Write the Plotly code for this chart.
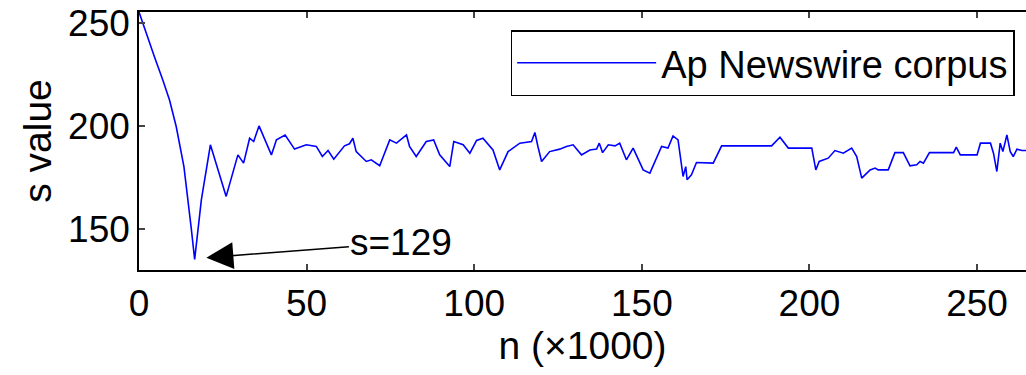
import plotly.graph_objects as go

n_thousands = [0, 2.1, 4.6, 7.1, 9.1, 11.1, 13.4, 15.6, 16.6, 18.6, 21.3, 26.0, 29.5, 31.2, 33.0, 34.2,
               35.8, 39.5, 41.0, 43.6,
               46.4, 49.9, 52.9, 54.7, 56.4, 58.1, 61.3, 62.8, 63.8, 64.8, 67.8, 69.3, 71.8, 74.8, 76.8,
               79.8, 80.7, 82.7, 85.7, 87.9, 89.7, 92.7, 93.9, 96.7, 98.7, 100.7, 102.6, 105.6, 107.6,
               110.1, 113.6, 117.1, 118.1, 119.0, 120.1, 122.5, 125.5, 127.5, 129.5, 132.0, 134.5, 136.5,
               137.3, 138.3, 140.0, 142.0, 143.4, 145.4, 147.4, 150.4, 152.4, 155.9, 157.8, 159.3, 160.8,
               162.3, 163.1, 163.5, 164.8, 166.3, 168.3, 171.3, 173.8, 179.3, 188.7, 191.2, 193.7, 200.7,
               201.9, 202.9, 205.6, 207.6, 210.1, 212.6, 214.1, 215.6, 218.1, 219.6, 220.5, 223.5, 225.5,
               228.0, 230.0, 232.0, 233.0, 234.0, 235.8, 243.0, 243.8, 245.0, 250.0, 251.0, 254.0, 254.9,
               255.9, 256.9, 257.7, 258.9, 259.9, 260.8, 261.9, 263.4, 265.0]
s_value = [255.4, 245.0, 233.6, 222.3, 212.6, 199.7, 180.2, 150.0, 135.0, 164.0, 190.8, 165.7, 185.9, 181.9,
           194.0, 192.4, 200.0, 185.9,
           193.2, 195.6, 188.7, 190.8, 190.0, 185.1, 188.0, 183.8, 190.3, 191.3, 194.0, 187.5, 182.7, 183.5,
           180.6, 193.2, 191.6, 195.6, 190.0, 185.1, 192.4, 193.2, 185.9, 180.2, 192.4, 190.8, 186.7, 192.9,
           194.0, 188.3, 178.6, 187.5, 191.6, 192.4, 196.8, 190.0, 182.7, 187.5, 188.7, 190.0, 190.8, 185.9,
           188.3, 188.7, 191.6, 187.0, 190.8, 190.3, 191.6, 183.5, 189.2, 178.6, 177.0, 190.0, 189.2, 195.1,
           193.2, 175.4, 180.2, 173.8, 176.2, 182.2, 182.2, 181.9, 190.3, 190.3, 190.3, 194.5, 189.2, 189.2,
           178.6, 182.7, 184.3, 188.0, 186.7, 189.2, 185.1, 174.6, 178.6, 179.5, 178.6, 178.6, 187.0, 187.0,
           180.6, 181.1, 182.7, 181.9, 187.0, 187.0, 189.7, 185.9, 185.9, 191.6, 191.6, 186.7, 177.8, 191.6,
           187.5, 195.6, 187.5, 185.1, 188.7, 188.0, 188.0]

x_ticks = [0, 50, 100, 150, 200, 250]
y_ticks = [150, 200, 250]
series_name = "Ap Newswire corpus"
min_label = "s=129"
arrow_tip_n, arrow_tip_s = 20.1, 135.9

FONT = "Liberation Sans, Arial, sans-serif"
FS = 37

fig = go.Figure()
fig.add_trace(go.Scatter(x=n_thousands, y=s_value, mode="lines", name=series_name,
                         line=dict(color="#0000ff", width=1.6)))

fig.add_annotation(x=arrow_tip_n, y=arrow_tip_s, xref="x", yref="y", text=min_label,
                   showarrow=True, arrowhead=2, arrowsize=3.6, arrowwidth=1.5, arrowcolor="black",
                   ax=195, ay=-15, font=dict(size=FS, color="black", family=FONT))

fig.update_layout(
    width=1026, height=375,
    margin=dict(l=139, r=0, t=12, b=105),
    paper_bgcolor="white", plot_bgcolor="white",
    font=dict(family=FONT, size=FS, color="black"),
    showlegend=True,
    legend=dict(x=0.419, y=0.93, xanchor="left", yanchor="top",
                bordercolor="black", borderwidth=1.5, bgcolor="white",
                font=dict(size=38, family=FONT), itemwidth=139),
    xaxis=dict(range=[0, 264.6], tickvals=x_ticks, ticks="inside", ticklen=6, tickwidth=1.5,
               showline=True, linecolor="black", linewidth=1.5, mirror="ticks",
               showgrid=False, zeroline=False, tickfont=dict(size=FS),
               title=dict(text="n (×1000)", font=dict(size=39), standoff=8)),
    yaxis=dict(range=[129.9, 255.4], tickvals=y_ticks, ticks="inside", ticklen=6, tickwidth=1.5,
               showline=True, linecolor="black", linewidth=1.5, mirror=False,
               showgrid=False, zeroline=False, tickfont=dict(size=FS),
               title=dict(text="s value", font=dict(size=39), standoff=4)),
)

fig.write_html("out.html")
